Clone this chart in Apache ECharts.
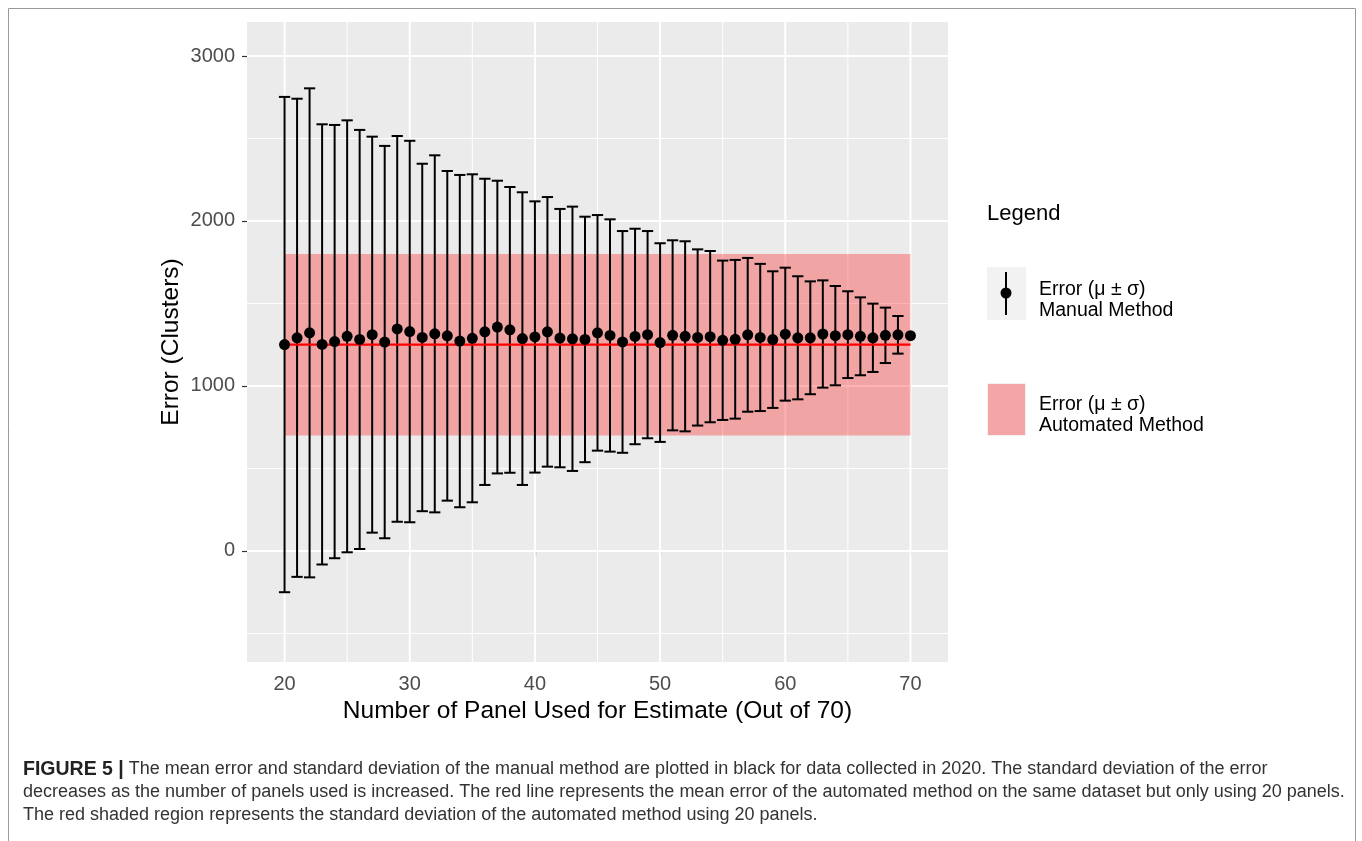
<!DOCTYPE html>
<html>
<head>
<meta charset="utf-8">
<script src="https://cdn.jsdelivr.net/npm/echarts@6/dist/echarts.min.js"></script>
<style>
html,body{margin:0;padding:0;background:#fff;}
#chart{width:1362px;height:841px;}
</style>
</head>
<body>
<div id="chart"></div>
<script>
// ---- data ----
const panels = [20,21,22,23,24,25,26,27,28,29,30,31,32,33,34,35,36,37,38,39,40,41,42,43,44,45,46,47,48,49,50,51,52,53,54,55,56,57,58,59,60,61,62,63,64,65,66,67,68,69,70];
const manualMean = [1251,1292,1322,1252,1269,1301,1282,1311,1266,1346,1330,1294,1316,1304,1272,1289,1328,1357,1340,1287,1297,1328,1290,1286,1282,1322,1306,1267,1300,1311,1263,1307,1301,1294,1299,1277,1283,1310,1294,1281,1314,1292,1292,1315,1305,1311,1301,1292,1307,1310,1305];
const manualSd = [1501,1449,1482,1334,1313,1309,1270,1200,1189,1169,1156,1053,1082,999,1007,994,928,887,866,887,822,817,783,801,744,714,704,672,653,628,602,576,576,534,519,483,481,466,446,414,403,373,342,325,301,263,236,207,168,114,0];
const automatedMean = 1250;
const automatedSd = 550;
const automatedRange = [20, 70];
const xTicks = [20,30,40,50,60,70];
const xMinor = [25,35,45,55,65];
const yTicks = [0,1000,2000,3000];
const yMinor = [-500,500,1500,2500];
const legendTitle = 'Legend';
const legendManual = 'Error (μ ± σ)\nManual Method';
const legendAuto = 'Error (μ ± σ)\nAutomated Method';
const xTitle = 'Number of Panel Used for Estimate (Out of 70)';
const yTitle = 'Error (Clusters)';
const captionLabel = 'FIGURE 5 |';
const captionLines = [
  'The mean error and standard deviation of the manual method are plotted in black for data collected in 2020. The standard deviation of the error',
  'decreases as the number of panels used is increased. The red line represents the mean error of the automated method on the same dataset but only using 20 panels.',
  'The red shaded region represents the standard deviation of the automated method using 20 panels.'
];

const X_MIN = 17, X_MAX = 73, Y_MIN = -673, Y_MAX = 3206;
const FONT = '"Liberation Sans", Arial, Helvetica, sans-serif';

const errData = panels.map((p, i) => [p, manualMean[i] - manualSd[i], manualMean[i] + manualSd[i], manualSd[i]]);
const pointData = panels.map((p, i) => [p, manualMean[i]]);

const chart = echarts.init(document.getElementById('chart'), null, {renderer: 'canvas'});

const option = {
  backgroundColor: '#ffffff',
  animation: false,
  grid: {left: 247, top: 22, right: 414, bottom: 179, show: true, backgroundColor: '#EBEBEB', borderWidth: 0},
  xAxis: {
    type: 'value', min: X_MIN, max: X_MAX,
    axisLine: {show: false},
    splitLine: {show: false},
    axisTick: {show: true, customValues: xTicks, length: 5, lineStyle: {color: '#333333', width: 1.2}},
    axisLabel: {customValues: xTicks, color: '#4D4D4D', fontSize: 20, fontFamily: FONT, margin: 12, formatter: v => String(v)},
    name: xTitle, nameLocation: 'middle', nameGap: 37, nameMoveOverlap: false,
    nameTextStyle: {color: '#000', fontSize: 24.5, fontFamily: FONT}
  },
  yAxis: {
    type: 'value', min: Y_MIN, max: Y_MAX,
    axisLine: {show: false},
    splitLine: {show: false},
    axisTick: {show: true, customValues: yTicks, length: 5, lineStyle: {color: '#333333', width: 1.2}},
    axisLabel: {customValues: yTicks, color: '#4D4D4D', fontSize: 20, fontFamily: FONT, margin: 12, formatter: v => String(v)},
    name: yTitle, nameLocation: 'middle', nameGap: 63, nameMoveOverlap: false,
    nameTextStyle: {color: '#000', fontSize: 24.5, fontFamily: FONT}
  },
  series: [
    {
      type: 'custom', z: 1, silent: true, clip: true,
      data: [[X_MIN, Y_MIN]],
      renderItem: function (params, api) {
        const ch = [];
        const addV = (v, w) => {
          const a = api.coord([v, Y_MIN]), b = api.coord([v, Y_MAX]);
          ch.push({type: 'line', shape: {x1: a[0], y1: a[1], x2: b[0], y2: b[1]}, style: {stroke: '#FFFFFF', lineWidth: w}});
        };
        const addH = (v, w) => {
          const a = api.coord([X_MIN, v]), b = api.coord([X_MAX, v]);
          ch.push({type: 'line', shape: {x1: a[0], y1: a[1], x2: b[0], y2: b[1]}, style: {stroke: '#FFFFFF', lineWidth: w}});
        };
        xMinor.forEach(v => addV(v, 1));
        yMinor.forEach(v => addH(v, 1));
        xTicks.forEach(v => addV(v, 2));
        yTicks.forEach(v => addH(v, 2));
        return {type: 'group', children: ch};
      }
    },
    {
      type: 'custom', z: 2, silent: true,
      data: [[automatedRange[0], automatedMean - automatedSd, automatedRange[1], automatedMean + automatedSd]],
      renderItem: function (params, api) {
        const p1 = api.coord([api.value(0), api.value(3)]);
        const p2 = api.coord([api.value(2), api.value(1)]);
        return {type: 'rect', shape: {x: p1[0], y: p1[1], width: p2[0] - p1[0], height: p2[1] - p1[1]},
          style: {fill: 'rgba(255,0,0,0.3)'}};
      }
    },
    {
      type: 'custom', z: 3, silent: true,
      encode: {x: 0, y: [1, 2]},
      data: errData,
      renderItem: function (params, api) {
        if (api.value(3) <= 0) return {type: 'group', children: []};
        const x = api.value(0);
        const lo = api.coord([x, api.value(1)]);
        const hi = api.coord([x, api.value(2)]);
        const hw = api.size([0.9, 0])[0] / 2;
        const st = {stroke: '#000', lineWidth: 2};
        return {type: 'group', children: [
          {type: 'line', shape: {x1: lo[0], y1: lo[1], x2: hi[0], y2: hi[1]}, style: st},
          {type: 'line', shape: {x1: hi[0] - hw, y1: hi[1], x2: hi[0] + hw, y2: hi[1]}, style: st},
          {type: 'line', shape: {x1: lo[0] - hw, y1: lo[1], x2: lo[0] + hw, y2: lo[1]}, style: st}
        ]};
      }
    },
    {
      type: 'line', z: 4, silent: true, symbol: 'none',
      data: [[automatedRange[0], automatedMean], [automatedRange[1], automatedMean]],
      lineStyle: {color: '#FF0000', width: 2.2}
    },
    {
      type: 'scatter', z: 5, silent: true,
      data: pointData, symbol: 'circle', symbolSize: 11,
      itemStyle: {color: '#000', opacity: 1}
    }
  ],
  graphic: [
    {type: 'rect', silent: true, shape: {x: 8.5, y: 8.5, width: 1347, height: 845}, style: {fill: 'none', stroke: '#9a9a9a', lineWidth: 1}},
    {type: 'text', left: 987, top: 203, style: {text: legendTitle, fontSize: 22, fontFamily: FONT, fill: '#000'}},
    {type: 'rect', shape: {x: 987, y: 267, width: 39, height: 53}, style: {fill: '#F2F2F2'}},
    {type: 'line', shape: {x1: 1006, y1: 272, x2: 1006, y2: 315}, style: {stroke: '#000', lineWidth: 2}},
    {type: 'circle', shape: {cx: 1006, cy: 293, r: 5.5}, style: {fill: '#000'}},
    {type: 'text', x: 1039, y: 300, style: {text: legendManual, fontSize: 19.5, lineHeight: 21, fontFamily: FONT, fill: '#000', verticalAlign: 'middle'}},
    {type: 'rect', shape: {x: 987, y: 383, width: 39, height: 53}, style: {fill: '#F2F2F2'}},
    {type: 'rect', shape: {x: 988, y: 384, width: 37, height: 51}, style: {fill: '#F4A6A6'}},
    {type: 'text', x: 1039, y: 415, style: {text: legendAuto, fontSize: 19.5, lineHeight: 21, fontFamily: FONT, fill: '#000', verticalAlign: 'middle'}},
    {type: 'text', x: 23, y: 758, style: {
      text: '{b|' + captionLabel + '} ' + captionLines.join('\n'),
      fontSize: 18, lineHeight: 23, fontFamily: FONT, fill: '#333', verticalAlign: 'top',
      rich: {b: {fontWeight: 'bold', fontSize: 19.5, lineHeight: 23, fontFamily: FONT, fill: '#222'}}
    }}
  ]
};
chart.setOption(option);
</script>
</body>
</html>
